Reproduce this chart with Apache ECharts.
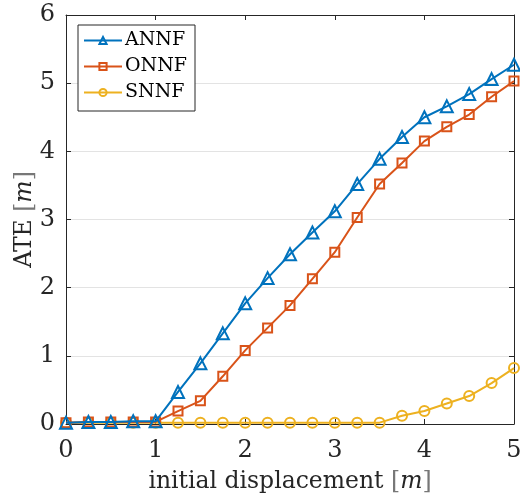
<!DOCTYPE html>
<html>
<head>
<meta charset="utf-8">
<script src="https://cdn.jsdelivr.net/npm/echarts@6/dist/echarts.min.js"></script>
<style>html,body{margin:0;padding:0;background:#fff}#c{width:520px;height:498px}</style>
</head>
<body>
<div id="c"></div>
<script>
const displacement = [0, 0.25, 0.5, 0.75, 1, 1.25, 1.5, 1.75, 2, 2.25, 2.5, 2.75, 3, 3.25, 3.5, 3.75, 4, 4.25, 4.5, 4.75, 5];
const annf = [0.02, 0.03, 0.03, 0.04, 0.04, 0.47, 0.89, 1.33, 1.77, 2.14, 2.49, 2.81, 3.12, 3.52, 3.89, 4.21, 4.50, 4.66, 4.84, 5.06, 5.27];
const onnf = [0.02, 0.03, 0.03, 0.03, 0.03, 0.19, 0.34, 0.70, 1.08, 1.41, 1.74, 2.13, 2.52, 3.03, 3.52, 3.83, 4.15, 4.36, 4.54, 4.80, 5.03];
const snnf = [0.02, 0.02, 0.02, 0.02, 0.02, 0.02, 0.02, 0.02, 0.02, 0.02, 0.02, 0.02, 0.02, 0.02, 0.02, 0.12, 0.19, 0.30, 0.41, 0.60, 0.82];
const seriesNames = ['ANNF', 'ONNF', 'SNNF'];
const xTicks = [0, 1, 2, 3, 4, 5];
const yTicks = [0, 1, 2, 3, 4, 5, 6];

const colors = ['#0072BD', '#D95319', '#EDB120'];
const symbols = ['triangle', 'rect', 'circle'];
const symSizes = [12, 9, 10];
const font = '"DejaVu Serif", "Liberation Serif", serif';
const pair = ys => displacement.map((x, i) => [x, ys[i]]);
const allData = [annf, onnf, snnf];
const txt = '#262626';

const chart = echarts.init(document.getElementById('c'), null, {renderer: 'canvas'});
const axisCommon = {
  type: 'value',
  axisLine: {show: true, onZero: false, lineStyle: {color: txt, width: 1}},
  axisTick: {show: true, inside: true, length: 5, lineStyle: {color: txt}},
  splitLine: {show: false},
};
const NS = 23.5;
const nameStyle = {fontSize: NS, color: txt, fontFamily: font,
  rich: {
    i: {fontStyle: 'italic', fontSize: NS, color: txt, fontFamily: font},
    b: {fontSize: NS, color: '#777', fontFamily: font}
  }};
chart.setOption({
  animation: false,
  backgroundColor: '#fff',
  textStyle: {fontFamily: font},
  grid: {left: 66, right: 6, top: 15, bottom: 74, containLabel: false, outerBoundsMode: 'none'},
  legend: {
    orient: 'vertical', left: 78, top: 25,
    data: seriesNames,
    itemWidth: 38, itemHeight: 9, itemGap: 7,
    padding: [6, 8, 9, 5],
    borderColor: txt, borderWidth: 1,
    backgroundColor: '#fff',
    textStyle: {fontFamily: font, fontSize: 19, color: '#000', padding: [0, 0, 0, -2]}
  },
  xAxis: [
    Object.assign({}, axisCommon, {
      min: 0, max: 5, interval: 1, position: 'bottom',
      axisLabel: {fontSize: 24, color: txt, margin: 15, fontFamily: font},
      name: 'initial displacement {b|[}{i|m}{b|]}', nameLocation: 'middle', nameGap: 46,
      nameMoveOverlap: false,
      nameTextStyle: nameStyle
    }),
    Object.assign({}, axisCommon, {
      min: 0, max: 5, interval: 1, position: 'top',
      axisLabel: {show: false}
    })
  ],
  yAxis: [
    Object.assign({}, axisCommon, {
      min: 0, max: 6, interval: 1, position: 'left',
      splitLine: {show: true, lineStyle: {color: '#e3e3e3', width: 1}},
      axisLabel: {fontSize: 24, color: txt, margin: 11, fontFamily: font},
      name: 'ATE {b|[}{i|m}{b|]}', nameLocation: 'middle', nameGap: 29, nameRotate: 90,
      nameMoveOverlap: false,
      nameTextStyle: nameStyle
    }),
    Object.assign({}, axisCommon, {
      min: 0, max: 6, interval: 1, position: 'right',
      axisLabel: {show: false}
    })
  ],
  series: seriesNames.map((n, k) => ({
    name: n, type: 'line',
    data: pair(allData[k]),
    symbol: symbols[k], symbolSize: symSizes[k],
    showAllSymbol: true,
    lineStyle: {color: colors[k], width: 2},
    itemStyle: {color: 'rgba(255,255,255,0)', borderColor: colors[k], borderWidth: 2},
    z: 10 - k
  }))
});
</script>
</body>
</html>
